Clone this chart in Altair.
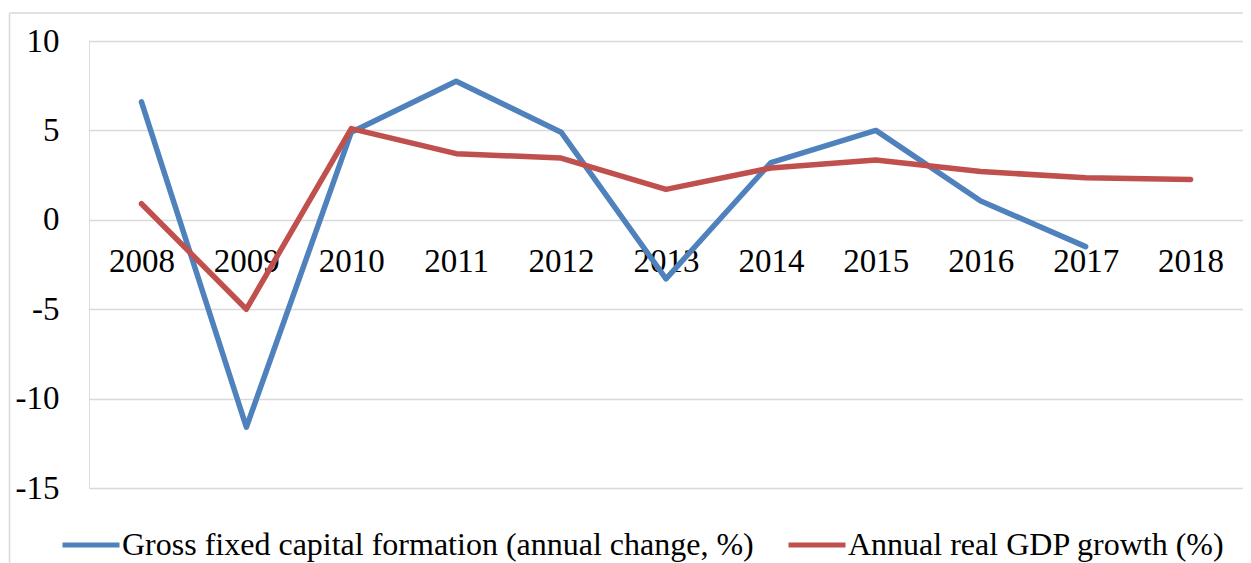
import altair as alt
import pandas as pd

years = ["2008", "2009", "2010", "2011", "2012", "2013", "2014", "2015", "2016", "2017", "2018"]
gfcf = [6.6, -11.6, 4.9, 7.75, 4.9, -3.3, 3.2, 5.0, 1.05, -1.5]
gdp = [0.9, -5.0, 5.1, 3.7, 3.45, 1.7, 2.9, 3.35, 2.7, 2.35, 2.25]
series_names = ["Gross fixed capital formation (annual change, %)", "Annual real GDP growth (%)"]
series_colors = ["#4F81BD", "#C0504D"]
y_ticks = [-15, -10, -5, 0, 5, 10]

rows = []
for y, v in zip(years, gfcf):
    rows.append({"year": y, "value": v, "series": series_names[0], "order": 0})
for y, v in zip(years, gdp):
    rows.append({"year": y, "value": v, "series": series_names[1], "order": 1})
df = pd.DataFrame(rows)

FONT = "Liberation Serif"

lines = alt.Chart(df).mark_line(strokeWidth=5.5, strokeCap="round", strokeJoin="round").encode(
    x=alt.X("year:O", sort=years,
            scale=alt.Scale(type="point", padding=0.5),
            axis=alt.Axis(title=None, labelAngle=0, domain=False, ticks=False,
                          offset=-267.3, labelPadding=25, labelFontSize=33,
                          labelFont=FONT, labelColor="#000000", grid=False)),
    y=alt.Y("value:Q",
            scale=alt.Scale(domain=[-15, 10], nice=False, zero=False),
            axis=alt.Axis(title=None, values=y_ticks, domain=False, ticks=False,
                          labelExpr="'' + datum.value",
                          labelPadding=30, labelFontSize=33, labelFont=FONT,
                          labelColor="#000000", gridColor="#d9d9d9", gridWidth=1.5)),
    color=alt.Color("series:N",
                    scale=alt.Scale(domain=series_names, range=series_colors),
                    legend=alt.Legend(title=None, orient="none", direction="horizontal",
                                      legendX=-29, legendY=473,
                                      symbolType="stroke", symbolSize=3249,
                                      symbolStrokeWidth=5, labelFontSize=32,
                                      labelFont=FONT, labelColor="#000000", labelLimit=0,
                                      labelOffset=0, columnPadding=24, padding=0)),
    order=alt.Order("order:Q"),
)

border_left = alt.Chart(pd.DataFrame({"a": [0]})).mark_rule(color="#d9d9d9", strokeWidth=1.5).encode(
    x=alt.value(-79.5), y=alt.value(-28), y2=alt.value(600)
)
border_top = alt.Chart(pd.DataFrame({"a": [0]})).mark_rule(color="#d9d9d9", strokeWidth=1.5).encode(
    x=alt.value(-79.5), x2=alt.value(1400), y=alt.value(-28)
)

chart = alt.layer(border_left, border_top, lines).properties(
    width=1154, height=447,
    autosize=alt.AutoSizeParams(type="none"),
    padding={"left": 81, "top": 33, "right": 0, "bottom": 75},
).configure_view(stroke=None).configure(background="white")

chart.save("out.html", embed_options={"renderer": "svg", "actions": False})
